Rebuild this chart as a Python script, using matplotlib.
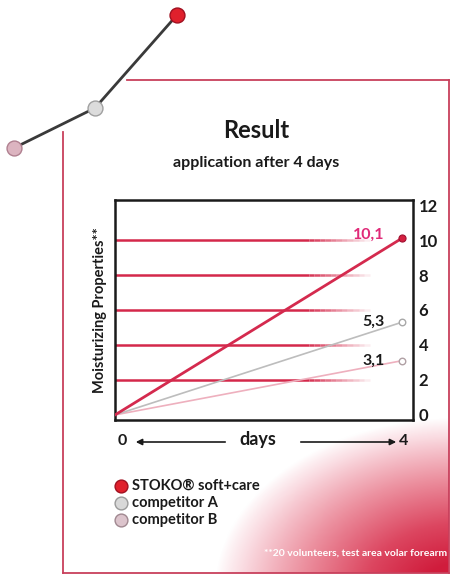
import numpy as np
import matplotlib
matplotlib.use("Agg")
import matplotlib.pyplot as plt
from matplotlib.colors import LinearSegmentedColormap

# ---- data ----
days = [0, 4]
stoko = [0, 10.1]
comp_a = [0, 5.3]
comp_b = [0, 3.1]
value_labels = ["10,1", "5,3", "3,1"]
series_names = ["STOKO® soft+care", "competitor A", "competitor B"]
yticks = [0, 2, 4, 6, 8, 10, 12]
grid_levels = [2, 4, 6, 8, 10]

plt.rcParams['font.family'] = ['Lato', 'DejaVu Sans']

W, H = 456, 575
fig = plt.figure(figsize=(W / 100, H / 100), dpi=100)
fig.patch.set_facecolor('white')

# overlay axes in pixel coordinates
ov = fig.add_axes([0, 0, 1, 1])
ov.set_xlim(0, W)
ov.set_ylim(H, 0)
ov.axis('off')

# elliptical gradient in the bottom-right of the panel
px0, py0, px1, py1 = 63, 80, 449, 573
xs = np.linspace(px0, px1, 400)
ys = np.linspace(py0, py1, 500)
X, Y = np.meshgrid(xs, ys)
d = np.sqrt(((460 - X) / 245.0) ** 2 + ((590 - Y) / 172.0) ** 2)
inten = np.clip((1 - d) / 0.85, 0, 1) ** 0.9
cmap = LinearSegmentedColormap.from_list(
    'g', [(0, '#ffffff'), (0.15, '#fadce2'), (0.45, '#ec909f'), (0.75, '#dc4660'), (1, '#d01c3c')])
ov.imshow(inten, extent=[px0, px1, py1, py0], cmap=cmap, vmin=0, vmax=1,
          aspect='auto', zorder=0, interpolation='bilinear')

# panel frame
fc = '#c8405c'
ov.plot([127, px1], [py0, py0], color=fc, lw=1.3, zorder=2)
ov.plot([px1, px1], [py0, py1], color=fc, lw=1.3, zorder=2)
ov.plot([px0, px0], [132, py1], color=fc, lw=1.3, zorder=2)
ov.plot([px0, px1], [py1, py1], color=fc, lw=1.3, zorder=2)

# decorative connector with three balls
dx = [14, 95, 177]
dy = [148, 108, 15]
ov.plot(dx, dy, color='#3a3a3a', lw=2, zorder=3)
ov.scatter([14], [148], s=115, color='#dcb4c0', edgecolor='#b08090', lw=1, zorder=4)
ov.scatter([95], [108], s=115, color='#dcdcdc', edgecolor='#a0a0a0', lw=1, zorder=4)
ov.scatter([177], [15], s=115, color='#e0202c', edgecolor='#a01020', lw=1, zorder=4)

# titles
ov.text(256, 131, "Result", ha='center', va='center', fontsize=17, fontweight='bold', color='#1a1a1a')
ov.text(256, 163, "application after 4 days", ha='center', va='center', fontsize=11.5,
        fontweight='bold', color='#1a1a1a')

# x-axis annotation
ov.text(122, 441, "0", ha='center', va='center', fontsize=11.5, fontweight='bold', color='#1a1a1a')
ov.text(404, 441, "4", ha='center', va='center', fontsize=11.5, fontweight='bold', color='#1a1a1a')
ov.text(258, 439, "days", ha='center', va='center', fontsize=13, fontweight='bold', color='#1a1a1a')
ov.annotate("", xy=(133, 442), xytext=(228, 442),
            arrowprops=dict(arrowstyle='-|>', color='#1a1a1a', lw=1.2, mutation_scale=9))
ov.annotate("", xy=(399, 442), xytext=(298, 442),
            arrowprops=dict(arrowstyle='-|>', color='#1a1a1a', lw=1.2, mutation_scale=9))

# legend
leg_y = [486, 503, 520]
leg_fill = ['#e0202c', '#d8d8d8', '#dcc4cc']
leg_edge = ['#a01020', '#9a9a9a', '#a08890']
for yy, name, f, e in zip(leg_y, series_names, leg_fill, leg_edge):
    ov.scatter([121], [yy], s=85, color=f, edgecolor=e, lw=1, zorder=4)
    ov.text(132, yy, name, ha='left', va='center', fontsize=10.5, fontweight='bold', color='#1a1a1a')

ov.text(447, 553, "**20 volunteers, test area volar forearm", ha='right', va='center',
        fontsize=7.5, fontweight='bold', color='white')

# ---- main chart ----
l, r, t, b = 115, 413, 200, 420
ax = fig.add_axes([l / W, 1 - b / H, (r - l) / W, (b - t) / H])
ax.patch.set_alpha(0)
ax.set_xlim(0, 4.155)
ax.set_ylim(-0.29, 12.29)

# fading red grid lines
gc = '#d4284a'
for lvl in grid_levels:
    ax.plot([0, 2.7], [lvl, lvl], color=gc, lw=1.8, solid_capstyle='butt', zorder=1)
    segs = np.linspace(2.7, 3.55, 12)
    for i in range(len(segs) - 1):
        ax.plot(segs[i:i + 2], [lvl, lvl], color=gc, lw=1.8, alpha=1 - (i + 1) / 12,
                solid_capstyle='butt', zorder=1)

ax.plot(days, comp_b, color='#eeb0be', lw=1.2, zorder=2)
ax.plot(days, comp_a, color='#bdbdbd', lw=1.2, zorder=2)
ax.plot(days, stoko, color='#d42a4e', lw=2.0, zorder=3)
ax.scatter([days[1]], [comp_b[1]], s=22, color='white', edgecolor='#b0a0a4', lw=1, zorder=4)
ax.scatter([days[1]], [comp_a[1]], s=22, color='white', edgecolor='#a8a8a8', lw=1, zorder=4)
ax.scatter([days[1]], [stoko[1]], s=26, color='#d42040', edgecolor='#a01030', lw=0.8, zorder=4)

lx = 3.76
ax.text(lx, stoko[1] + 0.2, value_labels[0], ha='right', va='center', fontsize=11.5,
        fontweight='bold', color='#e02a78')
ax.text(lx, comp_a[1], value_labels[1], ha='right', va='center', fontsize=11.5,
        fontweight='bold', color='#1a1a1a')
ax.text(lx, comp_b[1], value_labels[2], ha='right', va='center', fontsize=11.5,
        fontweight='bold', color='#1a1a1a')

ax.set_xticks([])
ax.yaxis.tick_right()
ax.set_yticks(yticks)
ax.set_yticklabels([str(v) for v in yticks], fontsize=12, fontweight='bold', color='#1a1a1a')
ax.tick_params(axis='y', length=0, pad=4)
for sp in ax.spines.values():
    sp.set_linewidth(1.8)
    sp.set_color('#1a1a1a')
ax.set_ylabel("Moisturizing Properties**", fontsize=10.5, fontweight='bold', color='#1a1a1a',
              labelpad=6)

fig.savefig("out.png", dpi=100, facecolor='white')
